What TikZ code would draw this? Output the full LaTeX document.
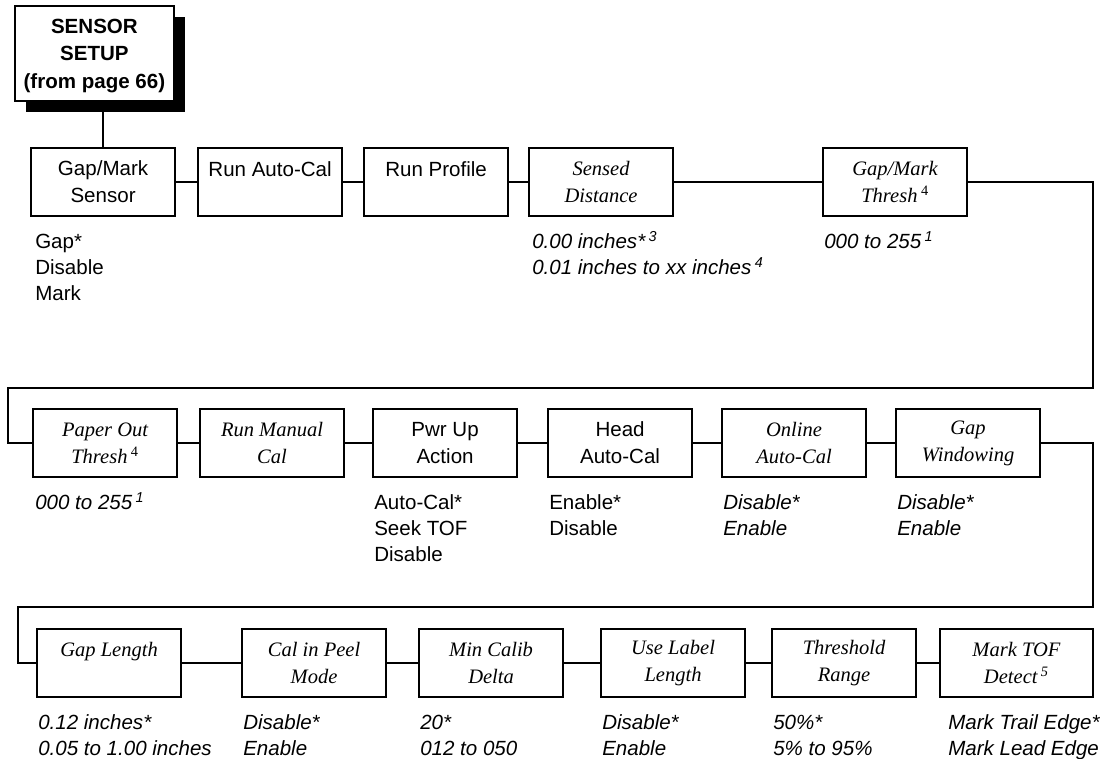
\documentclass[tikz,border=0pt]{standalone}
\usepackage{fontspec}
\setmainfont{Liberation Serif}
\setsansfont{Liberation Sans}
\usetikzlibrary{positioning, calc, shadows}

\tikzset{
  menu/.style={draw, line width=1.6pt, fill=white, anchor=north west,
    minimum width=108pt, minimum height=51pt, inner sep=0pt, align=center},
  sbox/.style={menu, font=\sffamily\fontsize{15.4}{20.25}\selectfont},
  ibox/.style={menu, font=\itshape\fontsize{15.4}{20.25}\selectfont},
  opt/.style={anchor=north west, inner sep=0pt, align=left,
    font=\sffamily\fontsize{15.4}{19.5}\selectfont},
  iopt/.style={opt, font=\sffamily\itshape\fontsize{15.4}{19.5}\selectfont},
  link/.style={line width=1.6pt},
}

\begin{document}
\begin{tikzpicture}[x=0.75pt, y=-0.75pt]
  \useasboundingbox (0,0) rectangle (1107,758);

  % row 1
  \node[sbox] (gms) at (30,147) {Gap/Mark\\Sensor};
  \node[sbox] (rac) at (197,147) {Run Auto-Cal\\~};
  \node[sbox] (rpf) at (363,147) {Run Profile\\~};
  \node[ibox] (sdist) at (528,147) {Sensed\\Distance};
  \node[ibox] (gmt) at (822,147) {Gap/Mark\\Thresh\,\textsuperscript{\upshape 4}};

  % start box
  \draw[link] (gms.north) -- ++(0,-40);
  \node[draw, line width=1.6pt, fill=white, anchor=north west, inner sep=0pt,
    minimum width=119pt, minimum height=71pt, align=center,
    font=\sffamily\bfseries\fontsize{15.4}{20.5}\selectfont,
    drop shadow={shadow xshift=8.5pt, shadow yshift=-8.5pt, opacity=1, fill=black}]
    (setup) at (14,5) {\strut SENSOR\\SETUP\\(from page 66)};

  % row 2
  \node[ibox] (pot) at (32,408) {Paper Out\\Thresh\,\textsuperscript{\upshape 4}};
  \node[ibox] (rmc) at (199,408) {Run Manual\\Cal};
  \node[sbox] (pwr) at (372,408) {Pwr Up\\Action};
  \node[sbox] (hac) at (547,408) {Head\\Auto-Cal};
  \node[ibox] (oac) at (721,408) {Online\\Auto-Cal};
  \node[ibox] (gwin) at (895,408) {Gap\\Windowing};

  % row 3
  \node[ibox] (glen) at (36,628) {Gap Length\\~};
  \node[ibox] (peel) at (241,628) {Cal in Peel\\Mode};
  \node[ibox] (mcd) at (418,628) {Min Calib\\Delta};
  \node[ibox] (ull) at (600,628) {Use Label\\Length};
  \node[ibox] (thr) at (771,628) {Threshold\\Range};
  \node[ibox, minimum width=114.5pt] (mtof) at (939,628) {Mark TOF\\Detect\,\textsuperscript{5}};

  % links
  \draw[link] (gms) -- (rac);
  \draw[link] (rac) -- (rpf);
  \draw[link] (rpf) -- (sdist);
  \draw[link] (sdist) -- (gmt);
  \coordinate (r1) at (1093,388);
  \coordinate (l1) at (8,388);
  \draw[link] (gmt.east) -| (r1) -- (l1) |- (pot.west);
  \draw[link] (pot) -- (rmc);
  \draw[link] (rmc) -- (pwr);
  \draw[link] (pwr) -- (hac);
  \draw[link] (hac) -- (oac);
  \draw[link] (oac) -- (gwin);
  \coordinate (r2) at (1093,607);
  \coordinate (l2) at (18,607);
  \draw[link] (gwin.east) -| (r2) -- (l2) |- (glen.west);
  \draw[link] (glen) -- (peel);
  \draw[link] (peel) -- (mcd);
  \draw[link] (mcd) -- (ull);
  \draw[link] (ull) -- (thr);
  \draw[link] (thr) -- (mtof);

  % values
  \node[opt] (gmsval) at ($(gms.south west)+(5,13)$) {\strut Gap*\\Disable\\Mark};
  \node[iopt] (sdistval) at ($(sdist.south west)+(4,13)$)
    {\strut 0.00 inches*\,\textsuperscript{3}\\0.01 inches to xx inches\,\textsuperscript{4}};
  \node[iopt] (gmtval) at ($(gmt.south west)+(2,13)$) {\strut 000 to 255\,\textsuperscript{1}};
  \node[iopt] (potval) at ($(pot.south west)+(3,13)$) {\strut 000 to 255\,\textsuperscript{1}};
  \node[opt] (pwrval) at ($(pwr.south west)+(2,13)$) {\strut Auto-Cal*\\Seek TOF\\Disable};
  \node[opt] (hacval) at ($(hac.south west)+(2,13)$) {\strut Enable*\\Disable};
  \node[iopt] (oacval) at ($(oac.south west)+(2,13)$) {\strut Disable*\\Enable};
  \node[iopt] (gwinval) at ($(gwin.south west)+(2,13)$) {\strut Disable*\\Enable};
  \node[iopt] (glenval) at ($(glen.south west)+(2,13)$) {\strut 0.12 inches*\\0.05 to 1.00 inches};
  \node[iopt] (peelval) at ($(peel.south west)+(2,13)$) {\strut Disable*\\Enable};
  \node[iopt] (mcdval) at ($(mcd.south west)+(2,13)$) {\strut 20*\\012 to 050};
  \node[iopt] (ullval) at ($(ull.south west)+(2,13)$) {\strut Disable*\\Enable};
  \node[iopt] (thrval) at ($(thr.south west)+(2,13)$) {\strut 50\%*\\5\% to 95\%};
  \node[iopt] (mtofval) at ($(mtof.south west)+(9,13)$) {\strut Mark Trail Edge*\\Mark Lead Edge};
\end{tikzpicture}
\end{document}
